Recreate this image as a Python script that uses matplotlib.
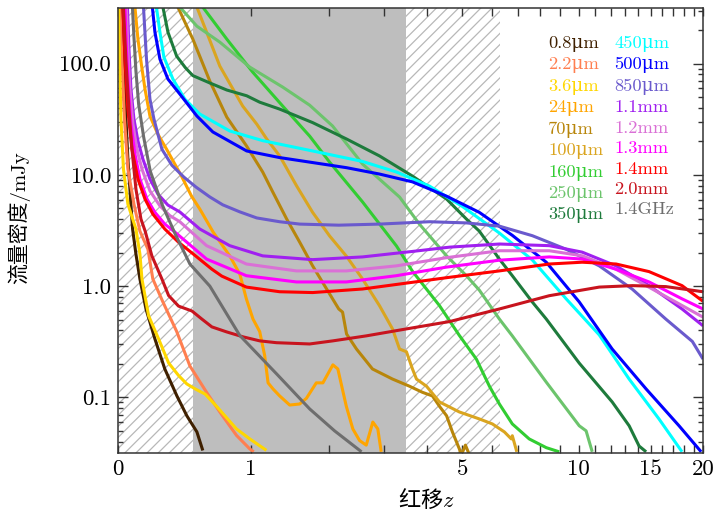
import numpy as np
import matplotlib
matplotlib.use("Agg")
import matplotlib.pyplot as plt
from matplotlib.ticker import FixedLocator, FixedFormatter, LogLocator, NullFormatter

plt.rcParams['font.family'] = ['cmr10', 'DejaVu Serif', 'Noto Sans CJK SC']
plt.rcParams['mathtext.fontset'] = 'custom'
plt.rcParams['mathtext.rm'] = 'Noto Sans CJK SC'
plt.rcParams['mathtext.it'] = 'cmmi10'
plt.rcParams['axes.formatter.use_mathtext'] = True
plt.rcParams['hatch.linewidth'] = 0.9

# ---- redshift (z) / flux density (mJy) tracks
z_08um = [0.013, 0.032, 0.053, 0.079, 0.098, 0.121, 0.157, 0.212, 0.276, 0.359, 0.431, 0.508, 0.555]
f_08um = [322, 72.6, 13.9, 3.26, 1.94, 1.158, 0.623, 0.335, 0.18, 0.103, 0.0683, 0.0489, 0.0333]

z_22um = [0.0104, 0.021, 0.0344, 0.053, 0.0867, 0.121, 0.1685, 0.199, 0.2635, 0.357, 0.454, 0.586, 0.699,
          0.853, 0.986, 1.027]
f_22um = [322, 109.8, 31.7, 11.27, 5.46, 3.12, 2.15, 1.158, 0.72, 0.392, 0.1915, 0.111, 0.0739,
          0.0455, 0.0344, 0.0324]

z_36um = [0.0031, 0.0083, 0.0157, 0.029, 0.053, 0.098, 0.121, 0.1329, 0.173, 0.2355, 0.3015, 0.371, 0.431,
          0.495, 0.574, 0.670, 0.853, 0.986, 1.165]
f_36um = [322, 109.8, 31.7, 11.27, 5.46, 3.26, 1.94, 1.158, 0.54, 0.335, 0.204, 0.157, 0.132,
          0.119, 0.107, 0.0832, 0.052, 0.0423, 0.0334]

z_24um = [0.0924, 0.1095, 0.131, 0.151, 0.181, 0.231, 0.288, 0.392, 0.4665, 0.531, 0.641, 0.789, 0.885,
          0.951, 1.019, 1.091, 1.146, 1.184, 1.241, 1.320, 1.444, 1.575, 1.666, 1.807, 1.905, 2.06, 2.14,
          2.281, 2.395, 2.516, 2.64, 2.767, 2.866, 2.935]
f_24um = [322, 166, 94.9, 59, 33.8, 23.2, 17.0, 9.74, 6.43, 4.93, 3.06, 1.87, 1.285,
          0.766, 0.506, 0.39, 0.237, 0.135, 0.119, 0.103, 0.0853, 0.0872, 0.098, 0.135, 0.135, 0.196, 0.18,
          0.0833, 0.052, 0.0409, 0.0372, 0.060, 0.052, 0.0324]

z_70um = [0.366, 0.4765, 0.613, 0.762, 0.954, 1.124, 1.237, 1.406, 1.575, 1.754, 1.962, 2.155, 2.218, 2.286,
          2.46, 2.76, 3.174, 3.558, 3.877, 4.137, 4.33, 4.53, 4.70, 4.91, 4.97, 5.10, 5.23]
f_70um = [322, 166, 69.6, 33, 18.1, 10.6, 7.04, 4.01, 2.48, 1.52, 0.942, 0.623, 0.584, 0.371,
          0.272, 0.18, 0.146, 0.126, 0.111, 0.103, 0.083, 0.0683, 0.0489, 0.0344, 0.0303, 0.0372, 0.0303]

z_100um = [0.508, 0.699, 0.914, 1.059, 1.169, 1.32, 1.535, 1.754, 2.009, 2.286, 2.571, 2.90, 3.174, 3.329,
           3.487, 3.63, 3.728, 3.98, 4.33, 4.91, 5.557, 6.018, 6.47, 6.744, 6.785, 6.97]
f_100um = [322, 95, 41.5, 28.6, 21, 14.8, 7.93, 4.6, 2.82, 1.85, 1.158, 0.667, 0.412, 0.272,
           0.257, 0.18, 0.146, 0.126, 0.0909, 0.0739, 0.064, 0.0577, 0.0489, 0.0423, 0.0452, 0.0324]

z_160um = [0.555, 0.762, 1.016, 1.357, 1.712, 2.009, 2.571, 3.262, 3.63, 4.33, 4.91, 5.456, 5.91, 6.278,
           6.785, 7.50, 8.29, 8.938]
f_160um = [322, 166, 83.9, 41.5, 22.3, 13.0, 5.71, 2.29, 1.36, 0.667, 0.36, 0.221, 0.126, 0.0872,
           0.0577, 0.0423, 0.0353, 0.0324]

z_250um = [0.38, 0.508, 0.699, 0.986, 1.357, 1.712, 2.055, 2.571, 3.329, 3.80, 4.53, 5.13, 5.557, 6.278,
           6.785, 8.29, 10.03, 10.43, 10.8]
f_250um = [322, 217, 156, 93, 61.5, 42.3, 27.5, 12.5, 6.32, 3.61, 1.87, 1.24, 0.92, 0.506,
           0.357, 0.137, 0.0555, 0.050, 0.0324]

z_350um = [0.2635, 0.297, 0.357, 0.42, 0.4765, 0.613, 0.762, 0.954, 1.091, 1.32, 1.754, 2.286, 2.90, 3.63,
           4.53, 5.13, 5.557, 6.278, 6.785, 7.638, 8.29, 10.03, 12.09, 13.3, 14.06, 14.62]
f_350um = [322, 192, 116.8, 92, 78, 67, 57.9, 51.4, 45, 39, 29.5, 21.0, 14.8, 9.75,
           6.06, 4.01, 3.12, 1.75, 1.24, 0.72, 0.506, 0.203, 0.091, 0.0555, 0.0365, 0.0324]

z_450um = [0.2215, 0.244, 0.27, 0.331, 0.416, 0.531, 0.789, 1.124, 1.754, 2.571, 3.262, 4.058, 5.004, 6.278,
           7.638, 9.31, 11.24, 13.3, 15.7, 17.83]
f_450um = [322, 192, 114.4, 72.6, 48, 35.2, 24.8, 20.3, 16.4, 13.2, 10.6, 7.93, 5.2, 3.0,
           1.72, 0.766, 0.364, 0.146, 0.064, 0.0324]

z_500um = [0.196, 0.212, 0.244, 0.297, 0.38, 0.508, 0.6385, 0.954, 1.32, 1.754, 2.286, 2.90, 3.63, 4.53,
           5.557, 6.785, 8.29, 10.03, 12.09, 14.62, 17.54, 19.8]
f_500um = [322, 192, 109.8, 72.6, 53.2, 33.8, 24.3, 16.4, 14.3, 12.9, 11.6, 10.17, 8.65, 6.43,
           4.6, 2.86, 1.64, 0.72, 0.272, 0.119, 0.0555, 0.0324]

z_850um = [0.142, 0.160, 0.181, 0.206, 0.257, 0.324, 0.409, 0.5, 0.613, 0.725, 0.885, 1.059, 1.32, 1.575,
           2.155, 2.90, 4.058, 5.13, 6.278, 7.638, 9.29, 11.24, 13.52, 16.3, 18.87, 20]
f_850um = [322, 109.8, 48, 31.7, 17.0, 12.2, 9.55, 7.78, 6.33, 5.38, 4.65, 4.1, 3.79, 3.61,
           3.53, 3.61, 3.79, 3.70, 3.46, 2.84, 2.15, 1.52, 0.942, 0.506, 0.318, 0.221]

z_11mm = [0.0506, 0.0588, 0.0699, 0.0867, 0.1095, 0.1387, 0.181, 0.231, 0.2967, 0.38, 0.531, 0.789, 1.124,
          1.754, 2.571, 3.63, 4.614, 6.278, 8.436, 10.2, 12.36, 14.86, 17.83, 20]
f_11mm = [322, 135, 59, 31.7, 20.2, 13.86, 9.17, 6.72, 5.35, 4.64, 3.26, 2.31, 1.87,
          1.73, 1.83, 2.05, 2.24, 2.39, 2.31, 2.02, 1.52, 1.01, 0.623, 0.44]

z_12mm = [0.045, 0.053, 0.0643, 0.081, 0.1036, 0.133, 0.181, 0.244, 0.31, 0.38, 0.586, 0.951, 1.531, 2.281,
          3.255, 4.519, 6.278, 8.436, 10.22, 12.34, 14.86, 17.86, 20]
f_12mm = [322, 135, 59, 28.6, 17.0, 11.27, 7.18, 5.26, 4.3, 3.79, 2.31, 1.58, 1.37, 1.37,
          1.52, 1.80, 2.08, 2.08, 1.87, 1.42, 0.977, 0.667, 0.526]

z_13mm = [0.037, 0.045, 0.056, 0.0699, 0.0924, 0.121, 0.163, 0.212, 0.276, 0.345, 0.586, 0.951, 1.531, 2.281,
          3.255, 4.519, 6.278, 8.436, 10.22, 12.34, 14.86, 17.86, 20]
f_13mm = [322, 135, 59, 28.6, 15.4, 9.17, 6.06, 4.6, 3.61, 3.06, 1.75, 1.24, 1.09, 1.09,
          1.24, 1.48, 1.71, 1.83, 1.75, 1.42, 1.09, 0.766, 0.623]

z_14mm = [0.026, 0.037, 0.053, 0.0755, 0.1095, 0.151, 0.199, 0.276, 0.3705, 0.495, 0.63, 0.7165, 0.951, 1.32,
          1.754, 2.571, 3.329, 4.614, 6.278, 8.436, 10.2, 12.36, 14.86, 17.83, 20]
f_14mm = [322, 109.8, 39, 17.0, 9.17, 6.06, 4.44, 3.26, 2.48, 1.88, 1.42, 1.23, 0.98, 0.89,
          0.875, 0.942, 1.044, 1.2, 1.37, 1.58, 1.64, 1.58, 1.35, 1.01, 0.73]

z_20mm = [0.029, 0.042, 0.0588, 0.0755, 0.098, 0.127, 0.152, 0.193, 0.257, 0.3015, 0.3705, 0.469, 0.547, 0.63,
          0.759, 0.917, 1.091, 1.281, 1.712, 2.06, 2.64, 3.48, 4.614, 6.278, 8.436, 11.24, 13.54, 16.3, 20]
f_20mm = [322, 109.8, 39, 17.0, 7.45, 4.01, 3.12, 1.87, 1.158, 0.823, 0.661, 0.598, 0.506, 0.43,
          0.388, 0.35, 0.322, 0.31, 0.302, 0.322, 0.357, 0.412, 0.48, 0.623, 0.82, 0.98, 1.01, 0.99, 0.89]

z_14ghz = [0.0781, 0.0867, 0.098, 0.1135, 0.143, 0.183, 0.257, 0.347, 0.454, 0.613, 0.885, 1.285, 1.712,
           2.087, 2.552]
f_14ghz = [322, 173, 85.6, 43.2, 21.9, 10.8, 5.46, 2.94, 1.58, 1.0, 0.36, 0.162, 0.0787, 0.050, 0.0324]

band_labels = ["0.8μm", "2.2μm", "3.6μm", "24μm", "70μm", "100μm", "160μm", "250μm", "350μm",
               "450μm", "500μm", "850μm", "1.1mm", "1.2mm", "1.3mm", "1.4mm", "2.0mm", "1.4GHz"]
band_z = [z_08um, z_22um, z_36um, z_24um, z_70um, z_100um, z_160um, z_250um, z_350um,
          z_450um, z_500um, z_850um, z_11mm, z_12mm, z_13mm, z_14mm, z_20mm, z_14ghz]
band_f = [f_08um, f_22um, f_36um, f_24um, f_70um, f_100um, f_160um, f_250um, f_350um,
          f_450um, f_500um, f_850um, f_11mm, f_12mm, f_13mm, f_14mm, f_20mm, f_14ghz]
band_colors = ["#3f2000", "#ff7f50", "#ffd700", "#ffa500", "#b8860b", "#daa520", "#32cd32", "#6cc46c",
               "#1e7b3c", "#00ffff", "#0000ff", "#6a5acd", "#a020f0", "#da70d6", "#ff00ff", "#ff0000",
               "#c8141e", "#6e6e6e"]

# survey windows along z
hatch_spans = [(0.0, 0.48), (3.47, 6.3)]
gray_span = (0.48, 3.47)

x_major = [0, 1, 5, 10, 15, 20]
x_major_labels = ["0", "1", "5", "10", "15", "20"]
x_minor = [2, 3, 4, 6, 7, 8, 9, 11, 12, 13, 14, 16, 17, 18, 19]
y_major = [0.1, 1.0, 10.0, 100.0]
y_major_labels = ["0.1", "1.0", "10.0", "100.0"]


def fwd(z):
    return np.log10(1.0 + np.asarray(z, dtype=float))


def inv(u):
    return 10.0 ** np.asarray(u, dtype=float) - 1.0


fig = plt.figure(figsize=(7.18, 5.19), dpi=100)
ax = fig.add_axes([0.1643, 0.1272, 0.8148, 0.8574])
ax.set_xscale("function", functions=(fwd, inv))
ax.set_yscale("log")
ax.set_xlim(0, 20)
ax.set_ylim(10 ** -1.5, 10 ** 2.5)

for a, b in hatch_spans:
    ax.axvspan(a, b, facecolor="white", edgecolor="#b8b8b8", hatch="///", lw=0, zorder=0)
ax.axvspan(*gray_span, facecolor="#bebebe", edgecolor="none", lw=0, zorder=0)

for zz, ff, lab, col in zip(band_z, band_f, band_labels, band_colors):
    ax.plot(zz, ff, color=col, lw=2.2, label=lab, solid_capstyle="butt", zorder=2)

ax.xaxis.set_major_locator(FixedLocator(x_major))
ax.xaxis.set_major_formatter(FixedFormatter(x_major_labels))
ax.xaxis.set_minor_locator(FixedLocator(x_minor))
ax.xaxis.set_minor_formatter(NullFormatter())
ax.yaxis.set_major_locator(FixedLocator(y_major))
ax.yaxis.set_major_formatter(FixedFormatter(y_major_labels))
ax.yaxis.set_minor_locator(LogLocator(base=10, subs=np.arange(2, 10)))
ax.yaxis.set_minor_formatter(NullFormatter())

ax.tick_params(which="both", direction="in", top=True, right=True, width=1.0, color="#333333",
               labelsize=16.5)
ax.tick_params(axis="x", which="both", length=5.8, pad=4.5)
ax.tick_params(axis="y", which="major", length=7.5, pad=5)
ax.tick_params(axis="y", which="minor", length=3.8)
for sp in ax.spines.values():
    sp.set_linewidth(1.1)
    sp.set_color("#333333")

ax.set_xlabel("红移$z$", fontsize=16, family="Noto Sans CJK SC")
ax.xaxis.set_label_coords(0.528, -0.0787)
ax.set_ylabel("流量密度/mJy", fontsize=15)
ax.yaxis.set_label_coords(-0.150, 0.53)

leg = ax.legend(ncol=2, loc="upper left", bbox_to_anchor=(0.735, 0.9396), frameon=False,
                handlelength=0, handletextpad=0, borderpad=0, borderaxespad=0,
                labelspacing=0.245, columnspacing=0.62, fontsize=13.3, labelcolor="linecolor")
for h in leg.legend_handles:
    h.set_visible(False)

fig.savefig("out.png", dpi=100)
